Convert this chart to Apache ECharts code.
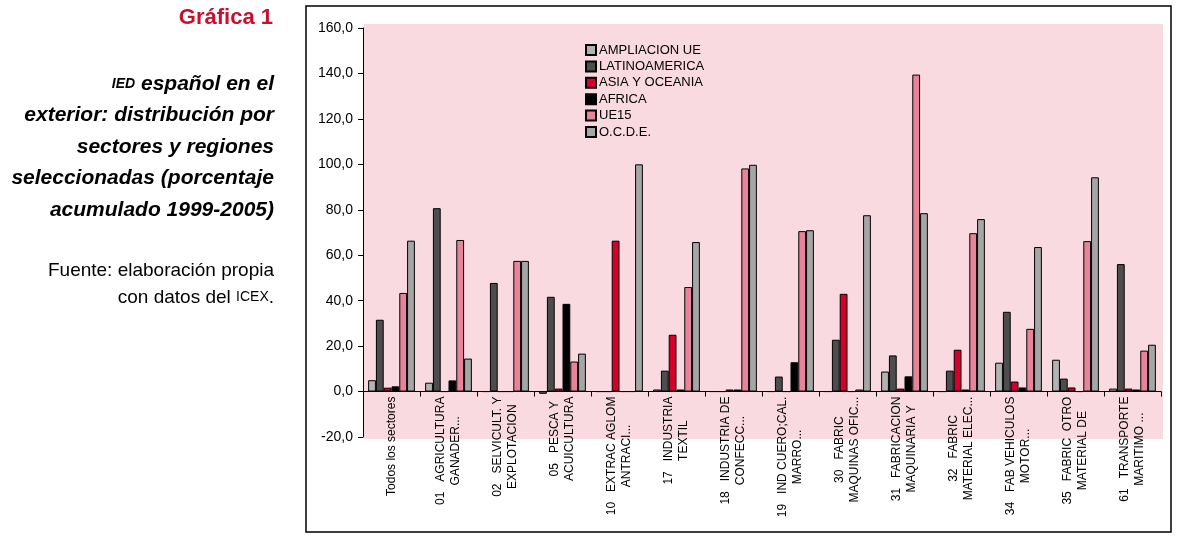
<!DOCTYPE html>
<html>
<head>
<meta charset="utf-8">
<script src="https://cdn.jsdelivr.net/npm/echarts@6/dist/echarts.min.js"></script>
<style>html,body{margin:0;padding:0;background:#fff}#c{width:1185px;height:544px}</style>
</head>
<body>
<div id="c"></div>
<script>
const categories = [
  ['Todos los sectores'],
  ['01   AGRICULTURA', 'GANADER...'],
  ['02   SELVICULT. Y', 'EXPLOTACION'],
  ['05   PESCA Y', 'ACUICULTURA'],
  ['10   EXTRAC AGLOM', 'ANTRACI...'],
  ['17   INDUSTRIA', 'TEXTIL'],
  ['18   INDUSTRIA DE', 'CONFECC...'],
  ['19   IND CUERO;CAL.', 'MARRO...'],
  ['30   FABRIC', 'MAQUINAS OFIC...'],
  ['31   FABRICACION', 'MAQUINARIA Y'],
  ['32   FABRIC', 'MATERIAL ELEC...'],
  ['34   FAB VEHICULOS', 'MOTOR...'],
  ['35   FABRIC  OTRO', 'MATERIAL DE'],
  ['61   TRANSPORTE', 'MARITIMO ...']
];
const seriesNames = ['AMPLIACION UE', 'LATINOAMERICA', 'ASIA Y OCEANIA', 'AFRICA', 'UE15', 'O.C.D.E.'];
const ampliacionUE  = [5.0, 3.9, 0, -1.0, 0, 0.9, 0, 0, 0, 8.8, 0, 12.7, 14.0, 1.3];
const latinoamerica = [31.6, 80.7, 47.8, 41.7, 0, 9.2, 0, 6.6, 22.8, 15.9, 9.2, 35.1, 5.7, 56.1];
const asiaOceania   = [1.7, 0, 0, 1.3, 66.4, 25.0, 0.9, 0, 43.0, 1.3, 18.4, 4.4, 1.8, 1.3];
const africa        = [2.3, 4.9, 0, 38.6, 0, 0.9, 0.9, 12.9, 0, 6.7, 0.9, 1.8, 0, 0.9];
const ue15          = [43.4, 66.7, 57.5, 13.2, 0, 46.0, 98.2, 70.6, 0.9, 139.5, 69.7, 27.6, 66.2, 18.0];
const ocde          = [66.4, 14.5, 57.5, 16.7, 100.0, 65.8, 99.8, 71.0, 77.6, 78.5, 75.9, 63.6, 94.3, 20.6];
const yTicks = { min: -20, max: 160, interval: 20 };

const colors = ['#b3b3b3', '#4d4d4d', '#d4002a', '#000000', '#e8849a', '#a6a6a6'];
const allData = [ampliacionUE, latinoamerica, asiaOceania, africa, ue15, ocde];
const FONT = '"Liberation Sans", Arial, sans-serif';

const GRID = { left: 363, right: 24, top: 28, bottom: 107 };
const gridHeight = 544 - GRID.top - GRID.bottom;
const zeroOffset = -(0 - yTicks.min) / (yTicks.max - yTicks.min) * gridHeight;

const chart = echarts.init(document.getElementById('c'));
chart.setOption({
  backgroundColor: '#ffffff',
  animation: false,
  textStyle: { fontFamily: FONT, color: '#000' },
  graphic: [
    { type: 'rect', z: -20, silent: true, shape: { x: 306, y: 6, width: 865, height: 526 },
      style: { fill: '#ffffff', stroke: '#000', lineWidth: 1.5 } },
    { type: 'rect', z: -10, silent: true, shape: { x: 364, y: 24, width: 799, height: 415 },
      style: { fill: '#f9dae1' } },
    { type: 'text', x: 273, y: 18, style: { text: 'Gráfica 1', align: 'right', verticalAlign: 'middle',
      fontFamily: FONT, fontSize: 22, fontWeight: 'bold', fill: '#c8102e' } },
    { type: 'text', x: 274, y: 68, style: {
      text: '{sc|IED} español en el\nexterior: distribución por\nsectores y regiones\nseleccionadas (porcentaje\nacumulado 1999-2005)',
      align: 'right', verticalAlign: 'top', fontFamily: FONT, fontSize: 21, fontWeight: 'bold',
      fontStyle: 'italic', lineHeight: 31.5, fill: '#000',
      rich: { sc: { fontFamily: FONT, fontSize: 14, fontWeight: 'bold', fontStyle: 'italic', lineHeight: 31.5, fill: '#000' } } } },
    { type: 'text', x: 274, y: 257, style: {
      text: 'Fuente: elaboración propia\ncon datos del {sc|ICEX}.',
      align: 'right', verticalAlign: 'top', fontFamily: FONT, fontSize: 19, lineHeight: 27, fill: '#000',
      rich: { sc: { fontFamily: FONT, fontSize: 14, lineHeight: 27, fill: '#000' } } } }
  ],
  legend: {
    orient: 'vertical', left: 580, top: 38,
    itemWidth: 10, itemHeight: 10, itemGap: 2.4,
    icon: 'rect',
    textStyle: { fontFamily: FONT, fontSize: 13, lineHeight: 14, color: '#000', padding: [0, 0, 0, -2] },
    data: seriesNames
  },
  grid: Object.assign({ containLabel: false, outerBoundsMode: 'none' }, GRID),
  xAxis: {
    type: 'category',
    data: categories.map(c => c.join('\n')),
    offset: zeroOffset,
    axisLine: { onZero: false, lineStyle: { color: '#000', width: 1 } },
    axisTick: { show: true, length: 5, lineStyle: { color: '#000' } },
    axisLabel: {
      interval: 0, rotate: 90, margin: 5, color: '#000',
      fontFamily: FONT, fontSize: 12,
      formatter: v => v.split('\n').map(s => '{c|' + s + '}').join('\n'),
      rich: { c: { align: 'center', fontFamily: FONT, fontSize: 12, lineHeight: 15, color: '#000' } }
    },
    splitLine: { show: false }
  },
  yAxis: {
    type: 'value', min: yTicks.min, max: yTicks.max, interval: yTicks.interval,
    axisLine: { show: true, lineStyle: { color: '#000', width: 1 } },
    axisTick: { show: true, length: 5, lineStyle: { color: '#000' } },
    axisLabel: { margin: 10, fontFamily: FONT, fontSize: 14, color: '#000',
      formatter: v => v.toFixed(1).replace('.', ',') },
    splitLine: { show: false }
  },
  series: seriesNames.map((name, i) => ({
    name, type: 'bar', data: allData[i],
    barGap: '0%', barCategoryGap: '18%',
    itemStyle: { color: colors[i], borderColor: '#000', borderWidth: 1 }
  }))
});
</script>
</body>
</html>
